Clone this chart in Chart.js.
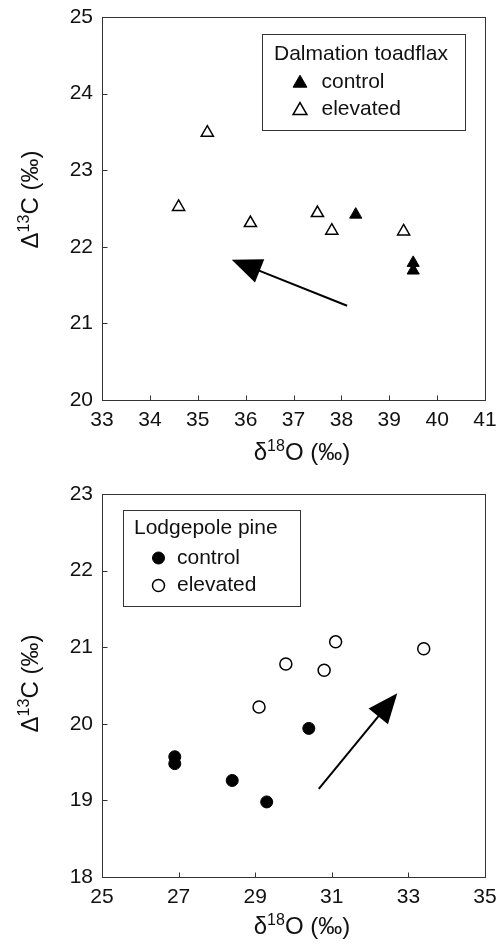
<!DOCTYPE html>
<html>
<head>
<meta charset="utf-8">
<script src="https://cdn.jsdelivr.net/npm/chart.js@4.4.0/dist/chart.umd.min.js"></script>
<style>
  body { margin: 0; background: #fff; }
  #wrap { position: relative; width: 501px; height: 947px; }
  canvas { position: absolute; left: 0; }
  #topChart { top: 0; }
  #bottomChart { top: 470px; }
</style>
</head>
<body>
<div id="wrap">
  <canvas id="topChart" width="501" height="470"></canvas>
  <canvas id="bottomChart" width="501" height="477"></canvas>
</div>
<script>
// Dalmation toadflax (top panel)
const toadControlX = [38.3, 39.5, 39.5];
const toadControlY = [22.42, 21.79, 21.69];
const toadElevatedX = [34.6, 35.2, 36.1, 37.5, 37.8, 39.3];
const toadElevatedY = [22.52, 23.49, 22.31, 22.44, 22.21, 22.2];
const toadXTicks = [33, 34, 35, 36, 37, 38, 39, 40, 41];
const toadYTicks = [20, 21, 22, 23, 24, 25];
const toadArrow = [[38.12, 21.23], [35.71, 21.83]]; // tail, tip

// Lodgepole pine (bottom panel)
const pineControlX = [26.9, 26.9, 28.4, 29.3, 30.4];
const pineControlY = [19.57, 19.48, 19.26, 18.98, 19.94];
const pineElevatedX = [29.1, 29.8, 30.8, 31.1, 33.4];
const pineElevatedY = [20.22, 20.78, 20.70, 21.07, 20.98];
const pineXTicks = [25, 27, 29, 31, 33, 35];
const pineYTicks = [18, 19, 20, 21, 22, 23];
const pineArrow = [[30.66, 19.15], [32.71, 20.40]];

const FONT = '"Liberation Sans", Arial, Helvetica, sans-serif';
const INK = '#111';

const toPoints = (xs, ys) => xs.map((x, i) => ({ x: x, y: ys[i] }));

function drawMarker(ctx, style, filled, r, x, y, lw) {
  ctx.beginPath();
  if (style === 'triangle') {
    for (let k = 0; k < 3; k++) {
      const ang = k * 2 * Math.PI / 3;
      const px = x + Math.sin(ang) * r, py = y - Math.cos(ang) * r;
      k ? ctx.lineTo(px, py) : ctx.moveTo(px, py);
    }
    ctx.closePath();
  } else {
    ctx.arc(x, y, r, 0, Math.PI * 2);
  }
  ctx.fillStyle = filled ? '#000' : '#fff';
  ctx.fill();
  ctx.lineWidth = lw;
  ctx.strokeStyle = '#000';
  ctx.stroke();
}

// text with superscript pieces: [[text, isSup], ...], centred on cx
function drawSupText(ctx, parts, cx, baseY) {
  const big = '24px ' + FONT, small = '16px ' + FONT;
  let total = 0;
  parts.forEach(p => { ctx.font = p[1] ? small : big; total += ctx.measureText(p[0]).width; });
  let x = cx - total / 2;
  ctx.textAlign = 'left';
  ctx.textBaseline = 'alphabetic';
  parts.forEach(p => {
    ctx.font = p[1] ? small : big;
    ctx.fillText(p[0], x, p[1] ? baseY - 9 : baseY);
    x += ctx.measureText(p[0]).width;
  });
}

const extras = {
  id: 'extras',
  afterDraw(chart, args, o) {
    const ctx = chart.ctx;
    const a = chart.chartArea;
    const xs = chart.scales.x, ys = chart.scales.y;
    ctx.save();

    // frame + inward ticks
    ctx.strokeStyle = '#333';
    ctx.lineWidth = 1;
    const L = Math.round(a.left) + 0.5, R = Math.round(a.right) + 0.5;
    const T = Math.round(a.top) + 0.5, B = Math.round(a.bottom) + 0.5;
    ctx.strokeRect(L, T, R - L, B - T);
    ctx.beginPath();
    xs.ticks.forEach(t => {
      const px = Math.round(xs.getPixelForValue(t.value)) + 0.5;
      ctx.moveTo(px, B); ctx.lineTo(px, B - 5);
    });
    ys.ticks.forEach(t => {
      const py = Math.round(ys.getPixelForValue(t.value)) + 0.5;
      ctx.moveTo(L, py); ctx.lineTo(L + 5, py);
    });
    ctx.stroke();

    // arrow
    const p0 = o.arrow[0], p1 = o.arrow[1];
    const x0 = xs.getPixelForValue(p0[0]), y0 = ys.getPixelForValue(p0[1]);
    const x1 = xs.getPixelForValue(p1[0]), y1 = ys.getPixelForValue(p1[1]);
    const ang = Math.atan2(y1 - y0, x1 - x0);
    const hl = 30, hw = 12.5;
    const bx = x1 - Math.cos(ang) * hl, by = y1 - Math.sin(ang) * hl;
    ctx.strokeStyle = '#000';
    ctx.fillStyle = '#000';
    ctx.lineWidth = 2;
    ctx.beginPath();
    ctx.moveTo(x0, y0);
    ctx.lineTo(bx + Math.cos(ang) * 4, by + Math.sin(ang) * 4);
    ctx.stroke();
    ctx.beginPath();
    ctx.moveTo(x1, y1);
    ctx.lineTo(bx + Math.sin(ang) * hw, by - Math.cos(ang) * hw);
    ctx.lineTo(bx - Math.sin(ang) * hw, by + Math.cos(ang) * hw);
    ctx.closePath();
    ctx.fill();

    // legend box
    const lg = o.legend;
    const lx = Math.round(a.left + lg.x) + 0.5, ly = Math.round(a.top + lg.y) + 0.5;
    ctx.strokeStyle = '#333';
    ctx.lineWidth = 1;
    ctx.strokeRect(lx, ly, lg.w, lg.h);
    ctx.fillStyle = INK;
    ctx.font = '21px ' + FONT;
    ctx.textAlign = 'left';
    ctx.textBaseline = 'middle';
    ctx.fillText(lg.title, lx + lg.titleX, ly + lg.titleY);
    chart.data.datasets.forEach((ds, i) => {
      const ry = ly + lg.rows[i];
      drawMarker(ctx, ds.pointStyle, ds.backgroundColor === '#000', lg.markerR, lx + lg.markerX, ry + lg.markerDy, ds.borderWidth);
      ctx.fillStyle = INK;
      ctx.font = '21px ' + FONT;
      ctx.textBaseline = 'middle';
      ctx.fillText(ds.label, lx + lg.textX, ry);
    });

    // axis titles
    ctx.fillStyle = INK;
    drawSupText(ctx, [['\u03B4', false], ['18', true], ['O (\u2030)', false]], o.xTitleX, o.xTitleY + 6);
    ctx.translate(31.5, (a.top + a.bottom) / 2 + o.yTitleDy);
    ctx.rotate(-Math.PI / 2);
    drawSupText(ctx, [['\u0394', false], ['13', true], ['C (\u2030)', false]], 0, 6);
    ctx.restore();
  }
};

function makeChart(id, d) {
  return new Chart(document.getElementById(id), {
    type: 'scatter',
    data: {
      datasets: [
        { label: 'control', data: d.control, pointStyle: d.style, pointRadius: d.r,
          backgroundColor: '#000', borderColor: '#000', borderWidth: 1 },
        { label: 'elevated', data: d.elevated, pointStyle: d.style, pointRadius: d.r,
          backgroundColor: '#fff', borderColor: '#000', borderWidth: 1.5 }
      ]
    },
    options: {
      responsive: false,
      animation: false,
      layout: { padding: { top: d.padTop, right: 16, left: 0, bottom: 0 } },
      plugins: {
        legend: { display: false },
        tooltip: { enabled: false },
        extras: { arrow: d.arrow, legend: d.legend, xTitleX: 302, xTitleY: d.xTitleY, yTitleDy: d.yTitleDy }
      },
      scales: {
        x: {
          type: 'linear',
          min: d.xTicks[0], max: d.xTicks[d.xTicks.length - 1],
          afterBuildTicks: s => { s.ticks = d.xTicks.map(v => ({ value: v })); },
          // fixed axis band, no extra overflow padding
          afterFit: s => { s.height = 70; s.paddingLeft = 0; s.paddingRight = 0; },
          grid: { display: false, drawTicks: false },
          border: { display: false },
          ticks: { font: { family: FONT, size: 21 }, color: INK, padding: 8, maxRotation: 0 }
        },
        y: {
          type: 'linear',
          min: d.yTicks[0], max: d.yTicks[d.yTicks.length - 1],
          afterBuildTicks: s => { s.ticks = d.yTicks.map(v => ({ value: v })); },
          afterFit: s => { s.width = 102; s.paddingTop = 0; s.paddingBottom = 0; },
          grid: { display: false, drawTicks: false },
          border: { display: false },
          ticks: { font: { family: FONT, size: 21 }, color: INK, padding: 9 }
        }
      }
    },
    plugins: [extras]
  });
}

makeChart('topChart', {
  control: toPoints(toadControlX, toadControlY),
  elevated: toPoints(toadElevatedX, toadElevatedY),
  xTicks: toadXTicks, yTicks: toadYTicks,
  style: 'triangle', r: 7,
  arrow: toadArrow,
  padTop: 17,
  xTitleY: 454,
  yTitleDy: -9,
  legend: { title: 'Dalmation toadflax', x: 160, y: 17, w: 203, h: 96,
            titleX: 11.5, titleY: 19.5, rows: [47.7, 75], markerX: 37.5, markerR: 8, markerDy: 1, textX: 59 }
});

makeChart('bottomChart', {
  control: toPoints(pineControlX, pineControlY),
  elevated: toPoints(pineElevatedX, pineElevatedY),
  xTicks: pineXTicks, yTicks: pineYTicks,
  style: 'circle', r: 6,
  arrow: pineArrow,
  padTop: 24,
  xTitleY: 457.5,
  yTitleDy: -2,
  legend: { title: 'Lodgepole pine', x: 20.5, y: 15.5, w: 177, h: 96,
            titleX: 10.5, titleY: 17.5, rows: [47.5, 75], markerX: 35, markerR: 6, markerDy: 0, textX: 53.5 }
});
</script>
</body>
</html>
